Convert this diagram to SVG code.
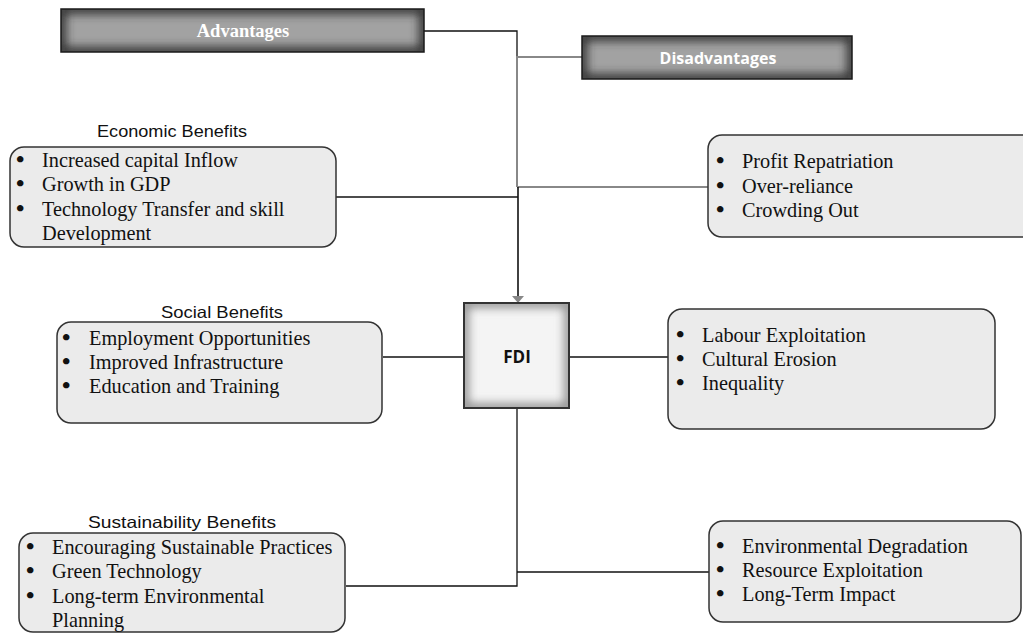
<svg xmlns="http://www.w3.org/2000/svg" width="1023" height="635" viewBox="0 0 1023 635">
  <style>
    .box { fill: #ebebeb; stroke: #333; stroke-width: 1.5; }
    .item { font-family: "Liberation Serif", "Times New Roman", serif; font-size: 20.3px; fill: #111; }
    .bul { font-size: 24px; font-weight: bold; }
    .cap { font-family: "Liberation Sans", Arial, sans-serif; font-size: 16.5px; fill: #111; text-anchor: middle; }
    .head { fill: #fff; font-weight: bold; text-anchor: middle; }
    .ln { fill: none; stroke: #111; stroke-width: 1.3; }
    .lg { fill: none; stroke: #888; stroke-width: 2; }
    .shadeDark { fill: none; stroke: #303030; stroke-width: 10; filter: url(#soft); }
    .shadeLight { fill: none; stroke: #8a8a8a; stroke-width: 9; filter: url(#soft); }
  </style>
  <defs>
    <filter id="soft" x="-50%" y="-50%" width="200%" height="200%">
      <feGaussianBlur stdDeviation="5"/>
    </filter>
    <clipPath id="clipAdv"><rect x="61" y="9" width="363" height="43"/></clipPath>
    <clipPath id="clipDis"><rect x="582" y="36" width="270" height="43"/></clipPath>
    <clipPath id="clipFdi"><rect x="464" y="303" width="105" height="105"/></clipPath>
  </defs>

  <!-- connectors -->
  <g id="connectors">
    <polyline class="ln" points="424,31 517,31 517,57"/>
    <polyline class="lg" points="582,57 517,57 517,187"/>
    <line class="lg" x1="517" y1="187" x2="709" y2="187"/>
    <line class="ln" x1="336" y1="197" x2="518" y2="197"/>
    <line class="ln" x1="518" y1="187" x2="518" y2="302" style="stroke-width:1.6"/>
    <path d="M512,296 L524,296 L518,303 Z" fill="#888"/>
    <line class="ln" x1="383" y1="357" x2="464" y2="357"/>
    <line class="ln" x1="569" y1="357" x2="668" y2="357"/>
    <polyline class="ln" points="517,408 517,586 346,586"/>
    <line class="ln" x1="517" y1="572" x2="709" y2="572"/>
  </g>

  <!-- header: Advantages -->
  <g id="advantages">
    <rect x="61" y="9" width="363" height="43" fill="#a2a2a2"/>
    <g clip-path="url(#clipAdv)"><rect class="shadeDark" x="61" y="9" width="363" height="43"/></g>
    <rect x="61" y="9" width="363" height="43" fill="none" stroke="#1a1a1a" stroke-width="1.5"/>
    <text class="head" x="243" y="37" font-family="Liberation Serif, Times New Roman, serif" font-size="18.5">Advantages</text>
  </g>

  <!-- header: Disadvantages -->
  <g id="disadvantages">
    <rect x="582" y="36" width="270" height="43" fill="#a2a2a2"/>
    <g clip-path="url(#clipDis)"><rect class="shadeDark" x="582" y="36" width="270" height="43"/></g>
    <rect x="582" y="36" width="270" height="43" fill="none" stroke="#1a1a1a" stroke-width="1.5"/>
    <text class="head" x="718" y="64" font-family="Open Sans, Liberation Sans, sans-serif" font-size="16">Disadvantages</text>
  </g>

  <!-- central node -->
  <g id="fdi">
    <rect x="464" y="303" width="105" height="105" fill="#f4f4f4"/>
    <g clip-path="url(#clipFdi)"><rect class="shadeLight" x="464" y="303" width="105" height="105"/></g>
    <rect x="464" y="303" width="105" height="105" fill="none" stroke="#333" stroke-width="2"/>
    <text x="517" y="363" font-family="Open Sans, Liberation Sans, sans-serif" font-size="17" font-weight="bold" fill="#111" text-anchor="middle">FDI</text>
  </g>

  <!-- economic benefits -->
  <g id="economic">
    <text class="cap" x="172" y="137" textLength="150" lengthAdjust="spacingAndGlyphs">Economic Benefits</text>
    <rect class="box" x="10" y="147" width="326" height="100" rx="14"/>
    <text class="item" y="167"><tspan class="bul" x="16">•</tspan><tspan x="42">Increased capital Inflow</tspan></text>
    <text class="item" y="191"><tspan class="bul" x="16">•</tspan><tspan x="42">Growth in GDP</tspan></text>
    <text class="item" y="216"><tspan class="bul" x="16">•</tspan><tspan x="42">Technology Transfer and skill</tspan></text>
    <text class="item" x="42" y="240">Development</text>
  </g>

  <!-- economic disadvantages -->
  <g id="profit">
    <rect class="box" x="708" y="135" width="330" height="102" rx="14"/>
    <text class="item" y="168"><tspan class="bul" x="716">•</tspan><tspan x="742">Profit Repatriation</tspan></text>
    <text class="item" y="193"><tspan class="bul" x="716">•</tspan><tspan x="742">Over-reliance</tspan></text>
    <text class="item" y="217"><tspan class="bul" x="716">•</tspan><tspan x="742">Crowding Out</tspan></text>
  </g>

  <!-- social benefits -->
  <g id="social">
    <text class="cap" x="222" y="318" textLength="122" lengthAdjust="spacingAndGlyphs">Social Benefits</text>
    <rect class="box" x="57" y="322" width="325" height="101" rx="14"/>
    <text class="item" y="345"><tspan class="bul" x="62">•</tspan><tspan x="89">Employment Opportunities</tspan></text>
    <text class="item" y="369"><tspan class="bul" x="62">•</tspan><tspan x="89">Improved Infrastructure</tspan></text>
    <text class="item" y="393"><tspan class="bul" x="62">•</tspan><tspan x="89">Education and Training</tspan></text>
  </g>

  <!-- social disadvantages -->
  <g id="labour">
    <rect class="box" x="668" y="309" width="327" height="120" rx="14"/>
    <text class="item" y="342"><tspan class="bul" x="676">•</tspan><tspan x="702">Labour Exploitation</tspan></text>
    <text class="item" y="366"><tspan class="bul" x="676">•</tspan><tspan x="702">Cultural Erosion</tspan></text>
    <text class="item" y="390"><tspan class="bul" x="676">•</tspan><tspan x="702">Inequality</tspan></text>
  </g>

  <!-- sustainability benefits -->
  <g id="sustainability">
    <text class="cap" x="182" y="528" textLength="188" lengthAdjust="spacingAndGlyphs">Sustainability Benefits</text>
    <rect class="box" x="19" y="533" width="326" height="99" rx="14"/>
    <text class="item" y="554"><tspan class="bul" x="26">•</tspan><tspan x="52">Encouraging Sustainable Practices</tspan></text>
    <text class="item" y="578"><tspan class="bul" x="26">•</tspan><tspan x="52">Green Technology</tspan></text>
    <text class="item" y="603"><tspan class="bul" x="26">•</tspan><tspan x="52">Long-term Environmental</tspan></text>
    <text class="item" x="52" y="627">Planning</text>
  </g>

  <!-- environmental disadvantages -->
  <g id="environment">
    <rect class="box" x="709" y="521" width="312" height="101" rx="14"/>
    <text class="item" y="553"><tspan class="bul" x="716">•</tspan><tspan x="742">Environmental Degradation</tspan></text>
    <text class="item" y="577"><tspan class="bul" x="716">•</tspan><tspan x="742">Resource Exploitation</tspan></text>
    <text class="item" y="601"><tspan class="bul" x="716">•</tspan><tspan x="742">Long-Term Impact</tspan></text>
  </g>
</svg>
